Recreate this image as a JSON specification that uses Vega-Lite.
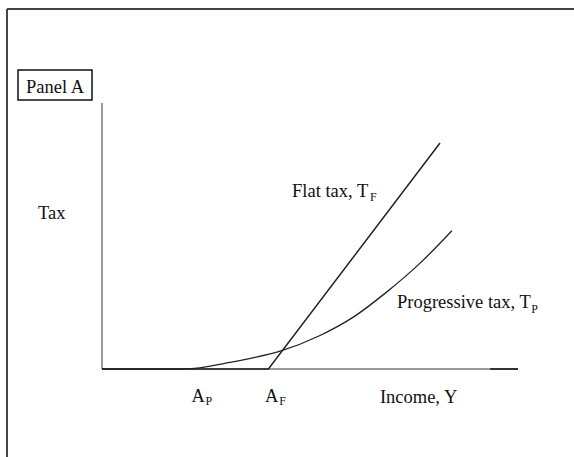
{
  "$schema": "https://vega.github.io/schema/vega-lite/v6.json",
  "width": 574,
  "height": 457,
  "autosize": {"type": "none"},
  "padding": 0,
  "background": "white",
  "config": {"view": {"stroke": null}},
  "datasets": {
    "frame": [
      {"x": -22.84, "y": 135.34, "x2": -22.84, "y2": -33.08},
      {"x": -22.84, "y": 135.34, "x2": 113.46, "y2": 135.34}
    ],
    "axes": [
      {"x": 0, "y": 0, "x2": 0, "y2": 100},
      {"x": 0, "y": 0, "x2": 100, "y2": 0}
    ],
    "axisEnd": [
      {"x": 93.3, "y": 0, "x2": 100, "y2": 0}
    ],
    "flat": [
      {"income": 0, "tax": 0},
      {"income": 40, "tax": 0},
      {"income": 81.25, "tax": 84.96}
    ],
    "prog": [
      {"income": 0, "tax": 0},
      {"income": 20, "tax": 0},
      {"income": 30.8, "tax": 2.5},
      {"income": 36, "tax": 4.1},
      {"income": 42.8, "tax": 6.7},
      {"income": 52.4, "tax": 12.6},
      {"income": 60.4, "tax": 19.5},
      {"income": 68.4, "tax": 28.9},
      {"income": 76.4, "tax": 39.7},
      {"income": 84.1, "tax": 52.0}
    ],
    "box": [
      {"x": -20.19, "x2": -2.4, "y": 112.4, "y2": 101.1}
    ],
    "labels": [
      {"x": -18.27, "y": 103.9, "text": "Panel A"},
      {"x": -15.4, "y": 56.3, "text": "Tax"},
      {"x": 45.67, "y": 64.8, "text": "Flat tax, T"},
      {"x": 70.9, "y": 22.8, "text": "Progressive tax, T"},
      {"x": 21.5, "y": -12.3, "text": "A"},
      {"x": 39.2, "y": -12.3, "text": "A"},
      {"x": 66.8, "y": -12.8, "text": "Income, Y"}
    ],
    "subs": [
      {"x": 64.42, "y": 63.0, "text": "F"},
      {"x": 103.2, "y": 21.0, "text": "P"},
      {"x": 24.9, "y": -13.5, "text": "P"},
      {"x": 42.6, "y": -13.5, "text": "F"}
    ]
  },
  "layer": [
    {
      "data": {"name": "frame"},
      "mark": {"type": "rule", "color": "#444444", "strokeWidth": 2},
      "encoding": {
        "x": {"field": "x", "type": "quantitative", "scale": {"domain": [-24.52, 113.46], "nice": false, "zero": false}, "axis": null},
        "y": {"field": "y", "type": "quantitative", "scale": {"domain": [-33.08, 138.72], "nice": false, "zero": false}, "axis": null},
        "x2": {"field": "x2"},
        "y2": {"field": "y2"}
      }
    },
    {
      "data": {"name": "axes"},
      "mark": {"type": "rule", "color": "#9a9a9a", "strokeWidth": 2},
      "encoding": {
        "x": {"field": "x", "type": "quantitative", "axis": null},
        "y": {"field": "y", "type": "quantitative", "axis": null},
        "x2": {"field": "x2"},
        "y2": {"field": "y2"}
      }
    },
    {
      "data": {"name": "axisEnd"},
      "mark": {"type": "rule", "color": "#333333", "strokeWidth": 2},
      "encoding": {
        "x": {"field": "x", "type": "quantitative", "axis": null},
        "y": {"field": "y", "type": "quantitative", "axis": null},
        "x2": {"field": "x2"},
        "y2": {"field": "y2"}
      }
    },
    {
      "data": {"name": "flat"},
      "mark": {"type": "line", "color": "#222222", "strokeWidth": 1.5},
      "encoding": {
        "x": {"field": "income", "type": "quantitative", "axis": null},
        "y": {"field": "tax", "type": "quantitative", "axis": null}
      }
    },
    {
      "data": {"name": "prog"},
      "mark": {"type": "line", "color": "#222222", "strokeWidth": 1.3, "interpolate": "monotone"},
      "encoding": {
        "x": {"field": "income", "type": "quantitative", "axis": null},
        "y": {"field": "tax", "type": "quantitative", "axis": null}
      }
    },
    {
      "data": {"name": "box"},
      "mark": {"type": "rect", "fill": "white", "stroke": "#111111", "strokeWidth": 1.5},
      "encoding": {
        "x": {"field": "x", "type": "quantitative", "axis": null},
        "x2": {"field": "x2"},
        "y": {"field": "y", "type": "quantitative", "axis": null},
        "y2": {"field": "y2"}
      }
    },
    {
      "data": {"name": "labels"},
      "mark": {"type": "text", "font": "Liberation Serif", "fontSize": 18.5, "align": "left", "baseline": "alphabetic", "color": "#111111"},
      "encoding": {
        "x": {"field": "x", "type": "quantitative", "axis": null},
        "y": {"field": "y", "type": "quantitative", "axis": null},
        "text": {"field": "text"}
      }
    },
    {
      "data": {"name": "subs"},
      "mark": {"type": "text", "font": "Liberation Serif", "fontSize": 12, "align": "left", "baseline": "alphabetic", "color": "#111111"},
      "encoding": {
        "x": {"field": "x", "type": "quantitative", "axis": null},
        "y": {"field": "y", "type": "quantitative", "axis": null},
        "text": {"field": "text"}
      }
    }
  ]
}
